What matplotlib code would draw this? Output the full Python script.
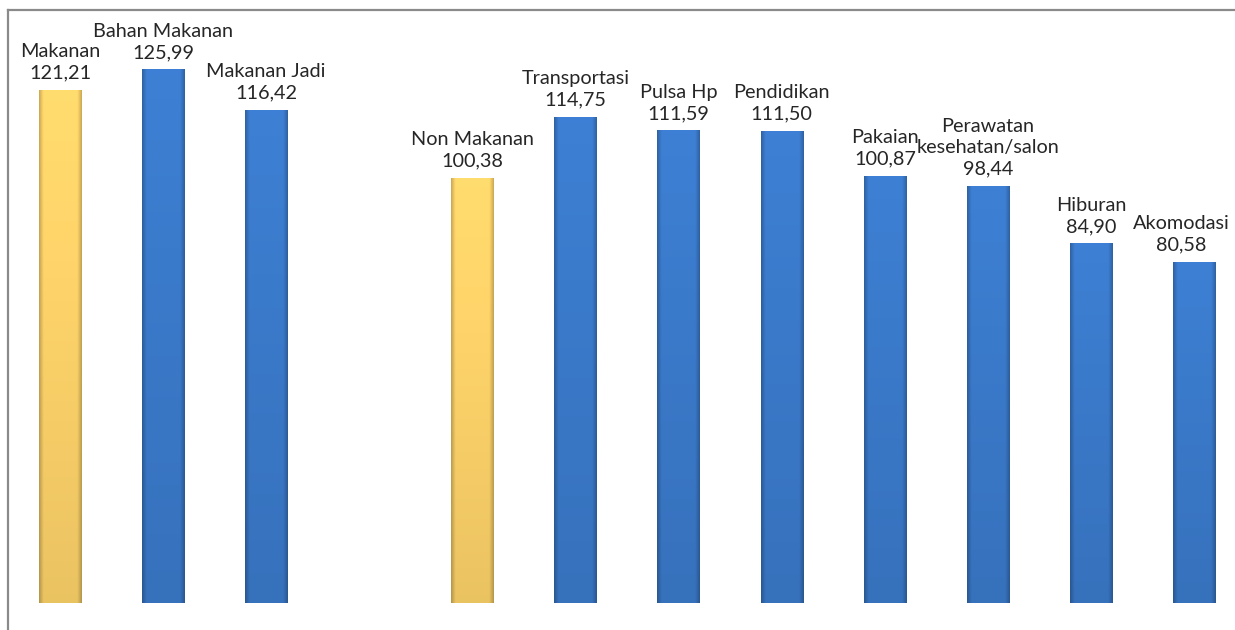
import matplotlib
matplotlib.use("Agg")
import matplotlib.pyplot as plt
import numpy as np
from matplotlib.colors import to_rgb

labels = ["Makanan", "Bahan Makanan", "Makanan Jadi", "Non Makanan", "Transportasi",
          "Pulsa Hp", "Pendidikan", "Pakaian", "Perawatan\nkesehatan/salon",
          "Hiburan", "Akomodasi"]
values = [121.21, 125.99, 116.42, 100.38, 114.75, 111.59, 111.50, 100.87, 98.44, 84.90, 80.58]
value_text = ["121,21", "125,99", "116,42", "100,38", "114,75", "111,59", "111,50",
              "100,87", "98,44", "84,90", "80,58"]
slots = [0, 1, 2, 4, 5, 6, 7, 8, 9, 10, 11]
is_group = [True, False, False, True, False, False, False, False, False, False, False]

YELLOW = "#ffd46a"
BLUE = "#3b7bcc"

plt.rcParams["font.family"] = ["Lato", "DejaVu Sans"]

fig = plt.figure(figsize=(12.35, 6.3), dpi=100)
ax = fig.add_axes([8 / 1235, 0, 1 - 8 / 1235, 620 / 630])

width = 0.41
colors = [YELLOW if g else BLUE for g in is_group]
bars = ax.bar(slots, values, width=width, color=colors, zorder=2)


def shade(base):
    r, g, b = to_rgb(base)
    nx, ny = 40, 100
    xs = np.linspace(-1, 1, nx)
    ys = np.linspace(0, 1, ny)[:, None]
    side = 1 - 0.22 * np.clip((np.abs(xs) - 0.8) / 0.2, 0, 1)
    vert = 1.04 - 0.12 * ys
    f = side[None, :] * vert
    img = np.stack([np.clip(r * f, 0, 1), np.clip(g * f, 0, 1), np.clip(b * f, 0, 1)], axis=-1)
    return img


for rect, c in zip(bars, colors):
    x0, y0 = rect.get_x(), rect.get_y()
    w, h = rect.get_width(), rect.get_height()
    im = ax.imshow(shade(c), extent=[x0, x0 + w, y0, y0 + h], origin="upper",
                   aspect="auto", zorder=3, interpolation="bilinear")
    im.set_clip_path(rect)

for i, (s, v, lab, vt) in enumerate(zip(slots, values, labels, value_text)):
    # last label sits at the right edge; nudge it in so it is not cut off
    dx = -9 if i == len(slots) - 1 else 0
    ax.annotate(lab + "\n" + vt, (s, v), xytext=(dx, 6), textcoords="offset points",
                ha="center", va="bottom", fontsize=14.3, color="#262626",
                linespacing=1.3, annotation_clip=False)

ax.set_xlim(-0.504, 11.396)
ax.set_ylim(-6.4, 140)
ax.set_xticks([])
ax.set_yticks([])
for side in ["right", "bottom"]:
    ax.spines[side].set_visible(False)
for side in ["left", "top"]:
    ax.spines[side].set_color("#8a8a8a")
    ax.spines[side].set_linewidth(1.6)

fig.savefig("out.png", dpi=100)
